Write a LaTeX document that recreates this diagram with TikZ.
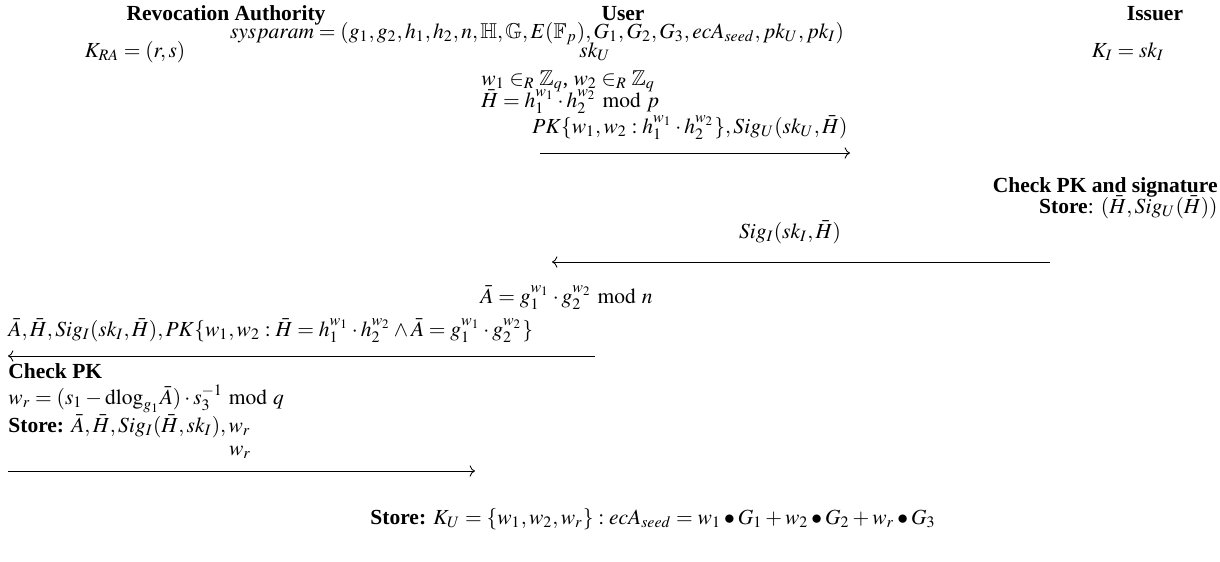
\documentclass[tikz,border=0pt]{standalone}
\usepackage{amssymb}
\usepackage{mathptmx}
\usepackage{fontspec}
\setmainfont{Liberation Serif}
\usetikzlibrary{arrows.meta,calc,positioning}
\tikzset{msg/.style={->, thin},
  hdr/.style={font=\bfseries, inner sep=0pt},
  txt/.style={inner sep=0pt, anchor=base west}}

\begin{document}
\begin{tikzpicture}[x=0.4651pt, y=-0.4651pt]
  \useasboundingbox (0,0) rectangle (1220,561);
  % parties
  \node[hdr, anchor=base] (ra) at (226,20) {Revocation Authority};
  \node[hdr, anchor=base] (user) at (623,20) {User};
  \node[hdr, anchor=base] (issuer) at (1155,20) {Issuer};
  \node[inner sep=0pt, anchor=base] (sysparam) at (537,38) {$sysparam=(g_1,g_2,h_1,h_2,n,\mathbb{H},\mathbb{G},E(\mathbb{F}_p),G_1,G_2,G_3,ecA_{seed},pk_U,pk_I)$};
  \node[inner sep=0pt, anchor=base] (kra) at (135,57) {$K_{RA}=(r,s)$};
  \node[inner sep=0pt, anchor=base] (sku) at (595,57) {$sk_U$};
  \node[inner sep=0pt, anchor=base] (ki) at (1128,57) {$K_I=sk_I$};
  % user picks the secrets
  \node[txt] (wpick) at (481,85) {$w_1\in_R\mathbb{Z}_q$, $w_2\in_R\mathbb{Z}_q$};
  \node[txt] (hbar) at (481,107) {$\bar{H}=h_1^{w_1}\cdot h_2^{w_2}\bmod p$};
  \coordinate (m1s) at (540,153);
  \coordinate (m1e) at (850,153);
  \draw[msg] (m1s) -- (m1e);
  \node[inner sep=0pt, anchor=base] (m1) at (690,133) {$PK\{w_1,w_2:h_1^{w_1}\cdot h_2^{w_2}\},Sig_U(sk_U,\bar{H})$};
  % issuer
  \node[hdr, anchor=base east] (chkpk) at (1218,192) {Check PK and signature};
  \node[inner sep=0pt, anchor=base east] (storeh) at (1218,213) {\textbf{Store}: $(\bar{H},Sig_U(\bar{H}))$};
  \coordinate (m2s) at (1050,262);
  \coordinate (m2e) at (552,262);
  \draw[msg] (m2s) -- (m2e);
  \node[inner sep=0pt, anchor=base] (m2) at (790,238) {$Sig_I(sk_I,\bar{H})$};
  % user to RA
  \node[txt] (abar) at (480,303) {$\bar{A}=g_1^{w_1}\cdot g_2^{w_2}\bmod n$};
  \coordinate (m3s) at (595,356);
  \coordinate (m3e) at (8,356);
  \draw[msg] (m3s) -- (m3e);
  \node[txt] (m3) at (8,336) {$\bar{A},\bar{H},Sig_I(sk_I,\bar{H}),PK\{w_1,w_2:\bar{H}=h_1^{w_1}\cdot h_2^{w_2}\wedge\bar{A}=g_1^{w_1}\cdot g_2^{w_2}\}$};
  % revocation authority
  \node[txt, font=\bfseries] (chk) at (8,378) {Check PK};
  \node[txt] (wr) at (8,404) {$w_r=(s_1-\mathrm{dlog}_{g_1}\bar{A})\cdot s_3^{-1}\bmod q$};
  \node[txt] (storea) at (8,432) {\textbf{Store:} $\bar{A},\bar{H},Sig_I(\bar{H},sk_I),w_r$};
  \coordinate (m4s) at (8,471);
  \coordinate (m4e) at (475,471);
  \draw[msg] (m4s) -- (m4e);
  \node[inner sep=0pt, anchor=base] (m4) at (240,455) {$w_r$};
  % user stores
  \node[txt] (storeku) at (370,524) {\textbf{Store:} $K_U=\{w_1,w_2,w_r\}:ecA_{seed}=w_1\bullet G_1+w_2\bullet G_2+w_r\bullet G_3$};
\end{tikzpicture}
\end{document}
